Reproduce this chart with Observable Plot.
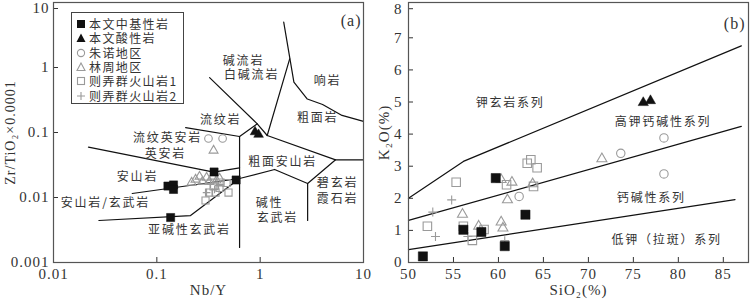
<!DOCTYPE html>
<html><head><meta charset="utf-8">
<script src="https://cdn.jsdelivr.net/npm/d3@7"></script>
<script src="https://cdn.jsdelivr.net/npm/@observablehq/plot@0.6"></script>
<style>
body{margin:0;background:#fff;}
#wrap{position:relative;width:750px;height:301px;overflow:hidden;background:#fff;}
#a,#b{position:absolute;top:0;}
#a{left:0;} #b{left:375px;}
svg text{letter-spacing:1px;}
.cjk text{letter-spacing:1.8px;}
#legend{position:absolute;left:71px;top:12px;width:111px;height:90px;border:1px solid #444;background:#fff;
  font-family:"Noto Sans CJK SC";font-size:12px;color:#333;letter-spacing:1.4px;}
#legend .row{position:absolute;left:4px;height:12px;line-height:12px;display:flex;align-items:center;}
#legend span{line-height:12px;}
#legend svg{margin-right:3px;}
</style></head><body>
<div id="wrap"><div id="a"></div><div id="b"></div><div id="legend"></div></div>
<script>
// ---------- tick values ----------
const aTickX = [0.01, 0.1, 1, 10];
const aTickY = [0.001, 0.01, 0.1, 1, 10];
const bTickX = [50, 55, 60, 65, 70, 75, 80, 85];
const bTickY = [0, 1, 2, 3, 4, 5, 6, 7, 8];

// ---------- panel (a): [Nb/Y, Zr/TiO2*0.0001] ----------
const aMafic   = [[0.128,0.0150],[0.145,0.0156],[0.145,0.0133],[0.136,0.00492],[0.358,0.0247],[0.585,0.0186]];
const aFelsic  = [[0.892,0.102],[0.965,0.0931]];
const aZhunuo  = [[0.316,0.0809],[0.433,0.0809]];
const aLinzhou = [[0.217,0.0170],[0.237,0.0189],[0.259,0.0210],[0.277,0.0176],[0.303,0.0203],[0.323,0.0176],[0.346,0.0210],[0.378,0.0183],[0.405,0.0196],[0.354,0.0528]];
const aZenong1 = [[0.296,0.0090],[0.320,0.0119],[0.370,0.0119],[0.404,0.0140],[0.494,0.0119],[0.473,0.0167],[0.414,0.0170],[0.354,0.0148]];
const aZenong2 = [[0.331,0.0159],[0.362,0.0133],[0.303,0.0119],[0.396,0.0153]];
const aBoundaries = [
  [[0.324,0.70],[0.937,0.136],[1.17,0.0899]],
  [[0.190,0.119],[0.632,0.0867],[0.937,0.136]],
  [[0.632,0.0867],[0.632,0.0017]],
  [[1.69,4.98],[2.12,0.594],[2.86,0.327],[4.02,0.270],[6.2,0.183],[10,0.148]],
  [[1.17,0.0899],[1.93,1.36]],
  [[1.17,0.0899],[5.37,0.038],[10,0.038]],
  [[5.37,0.038],[2.88,0.0164],[2.88,0.00443]],
  [[2.88,0.0164],[1.38,0.027],[0.632,0.0196]],
  [[0.0218,0.0594],[0.356,0.0245],[0.632,0.0286]],
  [[0.0578,0.01153],[0.632,0.0196]],
  [[0.0275,0.00443],[0.212,0.00528],[0.632,0.0196]]
];
const aRegionNames = ["碱流岩","白碱流岩","响岩","流纹岩","粗面岩","流纹英安岩","英安岩","安山岩","粗面安山岩","安山岩/玄武岩","碧玄岩","霞石岩","碱性","玄武岩","亚碱性玄武岩"];
const aRegionX = [0.690,0.826,4.49,0.414,3.60,0.127,0.121,0.065,1.65,0.0318,5.61,5.61,1.23,1.47,0.207];
const aRegionY = [1.24,0.753,0.609,0.153,0.164,0.0809,0.0459,0.0203,0.0345,0.0081,0.0164,0.0093,0.0081,0.00475,0.0031];

// ---------- panel (b): [SiO2, K2O] ----------
const bMafic   = [[51.6,0.19],[56.1,1.02],[58.1,0.95],[59.7,2.63],[60.7,0.51],[63.0,1.49]];
const bFelsic  = [[76.1,4.98],[76.9,5.04]];
const bZhunuo  = [[62.3,2.06],[73.6,3.40],[78.4,3.88],[78.4,2.76]];
const bLinzhou = [[56.0,1.50],[57.8,1.13],[60.3,2.58],[61.5,2.50],[61.0,1.95],[60.3,1.26],[60.5,1.07],[63.8,2.45],[71.5,3.23]];
const bZenong1 = [[52.1,1.13],[55.3,2.50],[56.1,1.13],[57.1,0.69],[58.4,1.03],[60.9,2.42],[63.2,3.09],[63.6,3.20],[64.3,2.95],[63.9,2.37]];
const bZenong2 = [[54.8,1.95],[52.7,1.57],[53.0,0.81],[56.6,0.81],[60.7,0.68]];
const bBoundaries = [
  [[50,2.0],[56.1,3.15],[87,6.75]],
  [[50,1.31],[87,4.24]],
  [[50,0.40],[86.3,1.96]]
];
const bSeriesNames = ["钾玄岩系列","高钾钙碱性系列","钙碱性系列","低钾（拉斑）系列"];
const bSeriesX = [61.3,78.3,77.0,78.7];
const bSeriesY = [4.95,4.36,1.99,0.69];

const legendNames = ["本文中基性岩","本文酸性岩","朱诺地区","林周地区","则弄群火山岩1","则弄群火山岩2"];

// ---------- helpers ----------
const flat = lines => lines.flatMap((l, i) => l.map(([x, y]) => ({x, y, id: i})));
const serif = '"Liberation Serif","Times New Roman",Times,serif';
const cjk = '"Noto Sans CJK SC"';
const grey = "#9a9a9a";
function dots(data, symbol, r, filled, col) {
  return Plot.dot(data, {x: d => d[0], y: d => d[1], symbol, r,
    fill: filled ? col : "none", stroke: col, strokeWidth: filled ? 0.5 : 1.1});
}

// ---------- panel (a) ----------
const plotA = Plot.plot({
  width: 375, height: 301, marginLeft: 53, marginRight: 12, marginTop: 2, marginBottom: 39,
  x: {type: "log", domain: [0.01, 10]},
  y: {type: "log", domain: [0.001, 10]},
  style: {fontFamily: serif, fontSize: "14px", color: "#333", background: "white"},
  marks: [
    Plot.axisX(aTickX, {tickSize: -5, tickPadding: 11, tickFormat: d => String(d), label: null, fontSize: 15}),
    Plot.axisY(aTickY.slice(0, -1), {tickSize: -5, tickPadding: 9, tickFormat: d => String(d), label: null, fontSize: 15}),
    Plot.axisY(aTickY.slice(-1), {tickSize: -5, tickPadding: 9, tickFormat: d => String(d), label: null, fontSize: 15, dy: 6}),
    Plot.line(flat(aBoundaries), {x: "x", y: "y", z: "id", stroke: "#111", strokeWidth: 1.2}),
    Plot.text(aRegionNames, {x: (d, i) => aRegionX[i], y: (d, i) => aRegionY[i], text: d => d,
      fontFamily: cjk, fontSize: 12, fill: "#333", className: "cjk"}),
    dots(aZenong1, "square", 4, false, grey),
    dots(aZenong2, "plus", 2.6, false, grey),
    dots(aLinzhou, "triangle", 3.3, false, grey),
    dots(aZhunuo, "circle", 3.8, false, grey),
    dots(aMafic, "square", 4.6, true, "#111"),
    dots(aFelsic, "triangle", 3.6, true, "#111"),
    Plot.frame({stroke: "#555", strokeWidth: 1.2}),
    Plot.text(["Nb/Y"], {frameAnchor: "bottom", dy: 32, fontSize: 15}),
    Plot.text(["Zr/TiO₂×0.0001"], {frameAnchor: "left", textAnchor: "middle", dx: -43, rotate: -90, fontSize: 14}),
    Plot.text(["(a)"], {frameAnchor: "top-right", textAnchor: "end", dx: -2, dy: 12, fontSize: 16})
  ]
});
document.getElementById("a").append(plotA);

// ---------- panel (b) ----------
const plotB = Plot.plot({
  width: 375, height: 301, marginLeft: 33, marginRight: 2, marginTop: 2, marginBottom: 39,
  x: {domain: [50, 87.8]},
  y: {domain: [0, 8.1]},
  style: {fontFamily: serif, fontSize: "14px", color: "#333", background: "white"},
  marks: [
    Plot.axisX(bTickX, {tickSize: -5, tickPadding: 11, label: null, fontSize: 15}),
    Plot.axisY(bTickY.slice(0, -1), {tickSize: -5, tickPadding: 11, label: null, fontSize: 15}),
    Plot.axisY(bTickY.slice(-1), {tickSize: -5, tickPadding: 11, label: null, fontSize: 15, dy: 3}),
    Plot.line(flat(bBoundaries), {x: "x", y: "y", z: "id", stroke: "#111", strokeWidth: 1.2}),
    Plot.text(bSeriesNames, {x: (d, i) => bSeriesX[i], y: (d, i) => bSeriesY[i], text: d => d,
      fontFamily: cjk, fontSize: 12, fill: "#333", className: "cjk"}),
    dots(bZenong1, "square", 4.8, false, grey),
    dots(bZenong2, "plus", 3, false, grey),
    dots(bLinzhou, "triangle", 3.7, false, grey),
    dots(bZhunuo, "circle", 4.2, false, grey),
    dots(bMafic, "square", 5.2, true, "#111"),
    dots(bFelsic, "triangle", 3.8, true, "#111"),
    Plot.frame({stroke: "#555", strokeWidth: 1.2}),
    Plot.text(["SiO₂(%)"], {frameAnchor: "bottom", dy: 32, fontSize: 15}),
    Plot.text(["K₂O(%)"], {frameAnchor: "left", textAnchor: "middle", dx: -24, rotate: -90, fontSize: 15}),
    Plot.text(["(b)"], {frameAnchor: "top-right", textAnchor: "end", dx: -3, dy: 15, fontSize: 16})
  ]
});
document.getElementById("b").append(plotB);

// ---------- legend (panel a) ----------
const legendSymbols = [
  '<rect x="1" y="1" width="8" height="8" fill="#111"/>',
  '<path d="M5,0.5 L9.5,9 L0.5,9 Z" fill="#111"/>',
  '<circle cx="5" cy="5" r="3.6" fill="none" stroke="' + grey + '" stroke-width="1.1"/>',
  '<path d="M5,1 L9,8.5 L1,8.5 Z" fill="none" stroke="' + grey + '" stroke-width="1.1"/>',
  '<rect x="1.5" y="1.5" width="7" height="7" fill="none" stroke="' + grey + '" stroke-width="1.1"/>',
  '<path d="M5,1 V9 M1,5 H9" stroke="' + grey + '" stroke-width="1.1"/>'
];
const leg = document.getElementById("legend");
legendNames.forEach((name, i) => {
  const row = document.createElement("div");
  row.className = "row";
  row.style.top = (5 + i * 14.3) + "px";
  row.innerHTML = '<svg width="10" height="10" viewBox="0 0 10 10">' + legendSymbols[i] + '</svg><span>' + name + '</span>';
  leg.append(row);
});
</script>
</body></html>
